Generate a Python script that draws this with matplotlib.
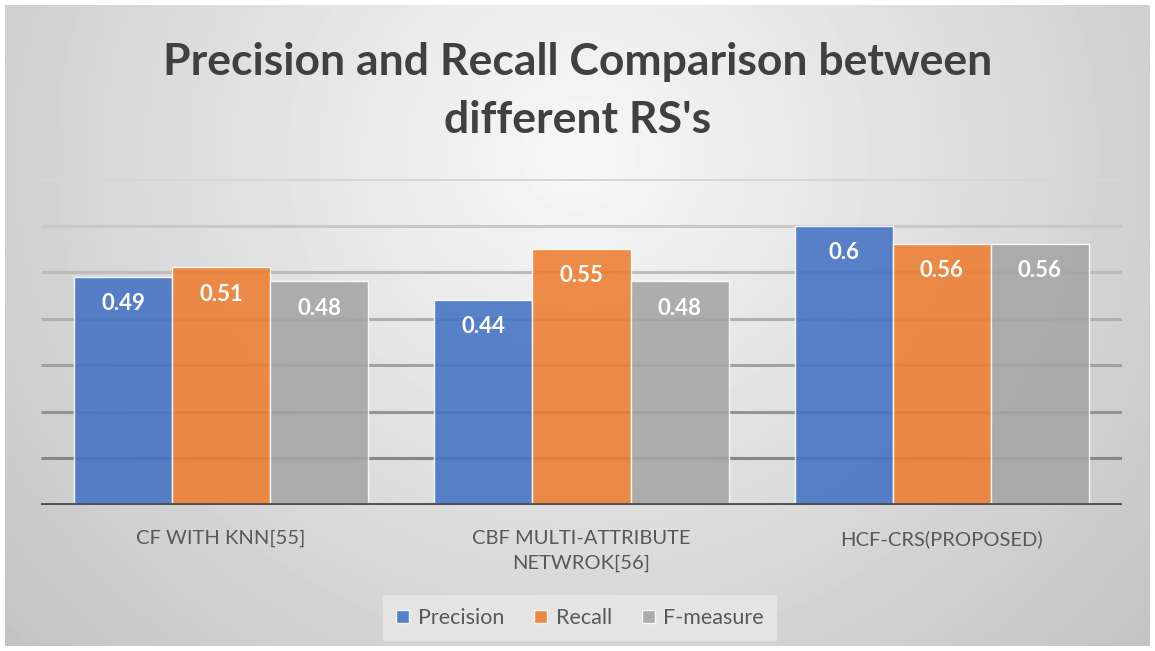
import numpy as np
import matplotlib.pyplot as plt

categories = ['CF WITH KNN[55]', 'CBF MULTI-ATTRIBUTE\nNETWROK[56]', 'HCF-CRS(PROPOSED)']
series = ['Precision', 'Recall', 'F-measure']
precision = [0.49, 0.44, 0.6]
recall = [0.51, 0.55, 0.56]
fmeasure = [0.48, 0.48, 0.56]
colors = ['#4472C4', '#ED7D31', '#A5A5A5']

plt.rcParams['font.family'] = ['Lato', 'DejaVu Sans']

W, H = 1155, 651
fig = plt.figure(figsize=(W / 100, H / 100), dpi=100)
fig.patch.set_facecolor('white')

# radial gradient background of the chart area
bg = fig.add_axes([5 / W, 5 / H, 1145 / W, 641 / H])
yy, xx = np.mgrid[0:641, 0:1145]
r = np.sqrt((xx - 572) ** 2 + ((yy - 150) * 1.05) ** 2)
v = 248 - (248 - 196) * np.clip(r / 756, 0, 1)
bg.imshow(v, cmap='gray', vmin=0, vmax=255, aspect='auto', extent=[0, 1, 0, 1], origin='upper')
bg.set_axis_off()

ax = fig.add_axes([41 / W, (H - 505) / H, 1081 / W, (505 - 179) / H])
ax.patch.set_alpha(0)

x = np.arange(len(categories))
bw = 0.272
vals = [precision, recall, fmeasure]

# gridlines, darker near the baseline
grid_y = np.arange(0.1, 0.71, 0.1)
grid_c = [str(c) for c in np.linspace(0.53, 0.84, len(grid_y))]
ax.hlines(grid_y, -0.5, len(categories) - 0.5, colors=grid_c, linewidth=2.2, zorder=1)
ax.axhline(0, color='#505050', linewidth=3.5, zorder=4)

for i, (name, data) in enumerate(zip(series, vals)):
    pos = x + (i - 1) * bw
    bars = ax.bar(pos, data, bw, color=colors[i], alpha=0.88, edgecolor='white',
                  linewidth=1.0, label=name, zorder=2)
    for b, val in zip(bars, data):
        ax.text(b.get_x() + b.get_width() / 2, val - 0.057, f'{val:g}', ha='center', va='center',
                color='white', fontsize=16, fontweight='bold', zorder=5)

ax.set_xlim(-0.5, len(categories) - 0.5)
ax.set_ylim(0, 0.7)
ax.set_yticks([])
ax.set_xticks(x)
ax.set_xticklabels(categories, fontsize=14.5, color='#595959', linespacing=1.55)
ax.tick_params(axis='x', length=0, pad=18)
for s in ax.spines.values():
    s.set_visible(False)

fig.text(0.5, 1 - 62 / H, "Precision and Recall Comparison between", ha='center', va='center',
         fontsize=32, fontweight='bold', color='#404040')
fig.text(0.5, 1 - 120 / H, "different RS's", ha='center', va='center',
         fontsize=32, fontweight='bold', color='#404040')

leg = fig.legend(loc='center', bbox_to_anchor=(580 / W, 1 - 618 / H), ncol=3, frameon=True,
                 fontsize=15.5, handlelength=0.6, handleheight=0.6, handletextpad=0.4,
                 columnspacing=1.4, borderpad=0.6, fancybox=False, labelcolor='#595959')
leg.get_frame().set_facecolor('#e4e4e4')
leg.get_frame().set_edgecolor('none')
leg.get_frame().set_alpha(1)

fig.savefig('out.png', dpi=100, facecolor='white')
